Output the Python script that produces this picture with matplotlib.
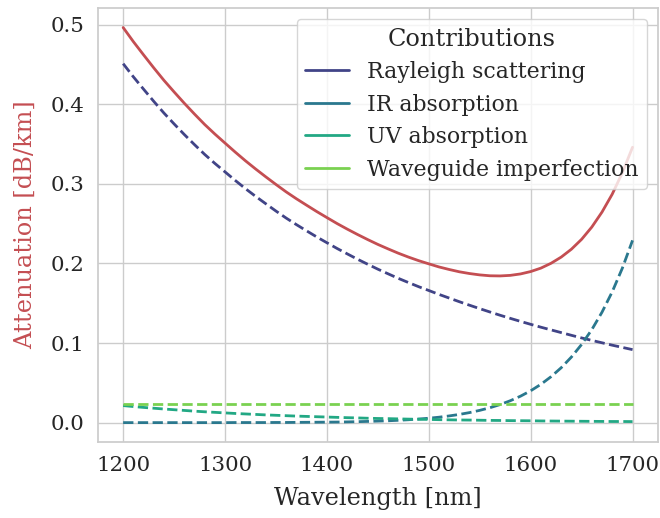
import numpy as np
import seaborn as sns
from matplotlib import pyplot as plt
from matplotlib.lines import Line2D

####################################
### Data (dB/km)
####################################

wavelength = [1200, 1210, 1220, 1230, 1240, 1250, 1260, 1270, 1280, 1290,
              1300, 1310, 1320, 1330, 1340, 1350, 1360, 1370, 1380, 1390,
              1400, 1410, 1420, 1430, 1440, 1450, 1460, 1470, 1480, 1490,
              1500, 1510, 1520, 1530, 1540, 1550, 1560, 1570, 1580, 1590,
              1600, 1610, 1620, 1630, 1640, 1650, 1660, 1670, 1680, 1690, 1700]

rayleigh = [0.451, 0.4345, 0.419, 0.4037, 0.389, 0.3753, 0.362, 0.3493, 0.337, 0.3257,
            0.315, 0.3043, 0.294, 0.2843, 0.275, 0.2658, 0.257, 0.2488, 0.241, 0.2333,
            0.226, 0.2188, 0.212, 0.2053, 0.199, 0.1928, 0.187, 0.1813, 0.176, 0.1708,
            0.166, 0.1611, 0.1565, 0.1519, 0.1475, 0.1432, 0.139, 0.1349, 0.131, 0.1272,
            0.1235, 0.1199, 0.1165, 0.1131, 0.1097, 0.1064, 0.1033, 0.1003, 0.0973, 0.0945, 0.0917]

ir_absorption = [0.0, 0.0, 0.0, 0.0, 0.0, 0.0, 0.0, 0.0, 0.0, 0.0,
                 0.0, 0.0001, 0.0001, 0.0001, 0.0001, 0.0002, 0.0002, 0.0003, 0.0004, 0.0005,
                 0.0006, 0.0007, 0.0009, 0.0012, 0.0015, 0.0019, 0.0023, 0.0029, 0.0036, 0.0045,
                 0.0055, 0.0068, 0.0084, 0.0103, 0.0126, 0.0154, 0.0187, 0.0227, 0.0275, 0.0332,
                 0.0400, 0.0481, 0.0577, 0.0690, 0.0824, 0.0982, 0.1168, 0.1387, 0.1642, 0.1941, 0.229]

uv_absorption = [0.0214, 0.0202, 0.0191, 0.0181, 0.0171, 0.0162, 0.0153, 0.0144, 0.0136, 0.0129,
                 0.0122, 0.0115, 0.0109, 0.0103, 0.0097, 0.0092, 0.0087, 0.0082, 0.0078, 0.0074,
                 0.0070, 0.0066, 0.0062, 0.0059, 0.0055, 0.0052, 0.0050, 0.0047, 0.0044, 0.0042,
                 0.0040, 0.0037, 0.0035, 0.0033, 0.0032, 0.0030, 0.0028, 0.0027, 0.0025, 0.0024,
                 0.0023, 0.0021, 0.0020, 0.0019, 0.0018, 0.0017, 0.0016, 0.0015, 0.0014, 0.0014, 0.0013]

waveguide = [0.024] * len(wavelength)

labels = ["Rayleigh scattering", "IR absorption", "UV absorption", "Waveguide imperfection"]

######################
### Total = sum of contributions
#####################

contributions = [rayleigh, ir_absorption, uv_absorption, waveguide]
total = np.sum(np.array(contributions), axis=0)

######################
### Style
#####################

sns.set_theme(style="whitegrid", font_scale=1.4)
plt.rcParams["font.family"] = ["DejaVu Serif"]
plt.rcParams["axes.labelsize"] = 17.3
plt.rcParams["legend.fontsize"] = 15.8
plt.rcParams["legend.title_fontsize"] = 17.3

red = "#C44E52"
colors = sns.color_palette("viridis", 4)

fig = plt.figure(figsize=(6.6, 5.18), dpi=100)
ax = fig.add_axes([0.148, 0.146, 0.849, 0.839])

######################
### Plot
#####################

ax.plot(wavelength, total, color=red, lw=2)
for series, c in zip(contributions, colors):
    ax.plot(wavelength, series, color=c, lw=2, ls="--")

ax.set_xlabel("Wavelength [nm]", labelpad=9)
ax.set_ylabel("Attenuation [dB/km]", color=red, labelpad=10)
ax.set_xticks([1200, 1300, 1400, 1500, 1600, 1700])
ax.set_yticks([0.0, 0.1, 0.2, 0.3, 0.4, 0.5])

for s in ax.spines.values():
    s.set_color("0.8")

handles = [Line2D([0], [0], color=c, lw=2) for c in colors]
ax.legend(handles, labels, title="Contributions", loc="upper right", labelspacing=0.48)

plt.savefig("out.png", dpi=100)
